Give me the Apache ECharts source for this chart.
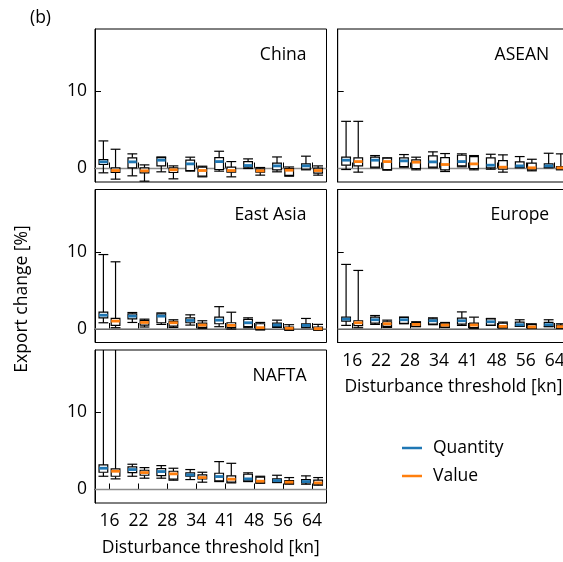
<!DOCTYPE html>
<html>
<head>
<meta charset="utf-8">
<script src="https://cdn.jsdelivr.net/npm/echarts@6/dist/echarts.min.js"></script>
<style>
  html, body { margin: 0; padding: 0; background: #fff; }
  #chart { width: 563px; height: 562px; }
</style>
</head>
<body>
<div id="chart"></div>
<script>
// Disturbance thresholds (kn)
const thresholds = ['16', '22', '28', '34', '41', '48', '56', '64'];

// Box statistics per threshold: [lower whisker, Q1, median, Q3, upper whisker], export change in %
const chinaQuantity = [
  [-0.56, 0.52, 0.86, 1.16, 3.58], [-0.95, 0.09, 0.86, 1.38, 1.90], [-0.43, 0.34, 1.08, 1.42, 1.50], [-0.34, -0.26, 0.60, 1.08, 1.47],
  [-0.34, -0.13, 0.90, 1.42, 2.24], [0.00, 0.17, 0.39, 0.90, 1.25], [-0.43, -0.17, 0.34, 0.69, 1.50], [-0.17, -0.09, 0.34, 0.60, 1.60]
];
const chinaValue = [
  [-1.38, -0.52, -0.26, 0.09, 2.50], [-1.64, -0.56, -0.30, 0.09, 0.47], [-1.34, -0.52, -0.17, 0.09, 0.34], [-1.08, -1.00, -0.26, 0.17, 0.30],
  [-1.08, -0.47, -0.26, 0.17, 0.90], [-0.86, -0.47, -0.30, -0.04, 0.13], [-1.00, -0.90, -0.22, 0.00, 0.20], [-0.86, -0.60, -0.26, 0.04, 0.34]
];
const aseanQuantity = [
  [-0.13, 0.43, 1.08, 1.47, 6.12], [0.09, 0.17, 1.08, 1.47, 1.68], [0.17, 0.26, 0.99, 1.38, 1.81], [0.09, 0.17, 0.86, 1.64, 2.16],
  [0.22, 0.34, 0.90, 1.72, 1.90], [-0.09, 0.09, 0.43, 1.38, 1.85], [0.09, 0.17, 0.34, 0.86, 1.55], [0.09, 0.17, 0.34, 0.60, 1.98]
];
const aseanValue = [
  [-0.47, 0.34, 0.90, 1.38, 6.12], [-0.22, -0.13, 0.90, 1.34, 1.38], [-0.17, 0.00, 0.82, 1.12, 1.47], [-0.39, -0.17, 0.52, 1.42, 1.94],
  [-0.17, 0.00, 0.60, 1.55, 1.68], [-0.47, -0.09, 0.17, 1.03, 1.77], [-0.30, -0.17, 0.09, 0.69, 1.20], [-0.17, -0.09, 0.09, 0.26, 1.90]
];
const eastAsiaQuantity = [
  [0.81, 1.45, 1.79, 2.18, 9.66], [0.85, 1.32, 1.67, 1.97, 2.14], [0.60, 0.81, 1.67, 1.97, 2.09], [0.51, 0.81, 1.11, 1.45, 1.84],
  [0.30, 0.68, 1.15, 1.54, 2.90], [0.17, 0.30, 0.81, 1.24, 1.45], [0.21, 0.30, 0.51, 0.77, 1.15], [0.17, 0.26, 0.47, 0.68, 1.37]
];
const eastAsiaValue = [
  [0.17, 0.47, 1.03, 1.37, 8.72], [0.26, 0.51, 0.85, 1.11, 1.28], [0.21, 0.38, 0.81, 0.98, 1.20], [0.09, 0.21, 0.51, 0.77, 1.07],
  [0.00, 0.17, 0.47, 0.81, 2.18], [-0.13, -0.04, 0.17, 0.68, 0.85], [-0.17, -0.09, 0.09, 0.26, 0.56], [-0.17, -0.09, 0.04, 0.26, 0.60]
];
const europeQuantity = [
  [0.47, 1.03, 1.28, 1.54, 8.38], [0.60, 0.77, 1.20, 1.54, 1.75], [0.68, 0.73, 1.20, 1.50, 1.54], [0.56, 0.64, 1.07, 1.32, 1.45],
  [0.47, 0.64, 1.07, 1.41, 2.22], [0.47, 0.51, 0.94, 1.32, 1.37], [0.34, 0.38, 0.56, 0.90, 1.20], [0.30, 0.34, 0.56, 0.85, 1.20]
];
const europeValue = [
  [0.17, 0.43, 0.81, 1.07, 7.60], [0.21, 0.34, 0.68, 0.94, 1.15], [0.30, 0.34, 0.60, 0.85, 0.94], [0.21, 0.26, 0.51, 0.77, 0.85],
  [0.09, 0.17, 0.51, 0.77, 1.54], [0.13, 0.17, 0.34, 0.77, 0.90], [0.09, 0.13, 0.26, 0.56, 0.68], [0.09, 0.17, 0.30, 0.51, 0.68]
];
const naftaQuantity = [
  [1.72, 2.24, 2.76, 3.19, 19.5], [1.72, 2.20, 2.59, 2.93, 3.28], [1.47, 1.81, 2.33, 2.72, 3.10], [1.29, 1.72, 1.90, 2.16, 2.59],
  [1.03, 1.12, 1.68, 2.11, 3.62], [1.03, 1.12, 1.38, 1.98, 2.16], [0.90, 0.95, 1.16, 1.38, 1.85], [0.69, 0.86, 1.03, 1.29, 1.77]
];
const naftaValue = [
  [1.38, 1.72, 2.37, 2.67, 20.5], [1.47, 1.85, 2.20, 2.50, 2.84], [1.21, 1.34, 2.03, 2.37, 2.76], [0.95, 1.38, 1.55, 1.90, 2.24],
  [0.86, 0.95, 1.34, 1.77, 3.40], [0.82, 0.86, 1.08, 1.60, 1.72], [0.69, 0.78, 0.95, 1.16, 1.55], [0.56, 0.69, 0.86, 1.21, 1.55]
];

const yTickValues = [0, 10];
const yMin = -1.75, yMax = 18.1;

const BLUE = '#1f77b4';
const ORANGE = '#ff7f0e';
const FONT = '"Open Sans"';
const FS = 17.5;

// Panel layout: title, position, Quantity / Value stats, which tick labels to show
const panels = [
  { title: 'China',     left: 95,    top: 29,    q: chinaQuantity,    v: chinaValue,    yLabels: true,  xLabels: false },
  { title: 'ASEAN',     left: 337.7, top: 29,    q: aseanQuantity,    v: aseanValue,    yLabels: false, xLabels: false },
  { title: 'East Asia', left: 95,    top: 189.5, q: eastAsiaQuantity, v: eastAsiaValue, yLabels: true,  xLabels: false },
  { title: 'Europe',    left: 337.7, top: 189.5, q: europeQuantity,   v: europeValue,   yLabels: false, xLabels: true },
  { title: 'NAFTA',     left: 95,    top: 350,   q: naftaQuantity,    v: naftaValue,    yLabels: true,  xLabels: true }
];
const PANEL_W = 231.5, PANEL_H = 153;

// Draw one box: whiskers with caps, white box, coloured median line.
function boxRenderer(offset, color) {
  return function (params, api) {
    const cs = params.coordSys;
    const top = cs.y, bottom = cs.y + cs.height;
    const band = api.size([1, 0])[0];
    const cx = api.coord([api.value(0), 0])[0] + offset * band;
    const bw = 0.3 * band, cw = 0.17 * band;
    const clampY = (y) => Math.max(top, Math.min(bottom, y));
    const yLo = api.coord([0, api.value(1)])[1];
    const yQ1 = api.coord([0, api.value(2)])[1];
    const yMed = api.coord([0, api.value(3)])[1];
    const yQ3 = api.coord([0, api.value(4)])[1];
    const yHi = api.coord([0, api.value(5)])[1];
    const line = { stroke: '#000', lineWidth: 1.2 };
    const children = [
      { type: 'line', shape: { x1: cx, y1: clampY(yQ1), x2: cx, y2: clampY(yLo) }, style: line },
      { type: 'line', shape: { x1: cx, y1: clampY(yQ3), x2: cx, y2: clampY(yHi) }, style: line }
    ];
    if (yLo >= top && yLo <= bottom) {
      children.push({ type: 'line', shape: { x1: cx - cw, y1: yLo, x2: cx + cw, y2: yLo }, style: line });
    }
    if (yHi >= top && yHi <= bottom) {
      children.push({ type: 'line', shape: { x1: cx - cw, y1: yHi, x2: cx + cw, y2: yHi }, style: line });
    }
    children.push({
      type: 'rect',
      shape: { x: cx - bw / 2, y: yQ3, width: bw, height: Math.max(yQ1 - yQ3, 0.5) },
      style: { fill: '#fff', stroke: '#000', lineWidth: 1.2 }
    });
    children.push({
      type: 'line',
      shape: { x1: cx - bw / 2, y1: yMed, x2: cx + bw / 2, y2: yMed },
      style: { stroke: color, lineWidth: 2.8 }
    });
    return { type: 'group', children: children };
  };
}

// Horizontal reference line at zero spanning the whole panel.
function zeroLineRenderer(params, api) {
  const cs = params.coordSys;
  const y = api.coord([0, 0])[1];
  return {
    type: 'line',
    shape: { x1: cs.x, y1: y, x2: cs.x + cs.width, y2: y },
    style: { stroke: '#8c8c8c', lineWidth: 1.4 }
  };
}

const grids = [], xAxes = [], yAxes = [], series = [], titles = [];

panels.forEach((p, i) => {
  grids.push({
    left: p.left, top: p.top, width: PANEL_W, height: PANEL_H,
    show: true, borderColor: '#000', borderWidth: 1, backgroundColor: 'transparent',
    containLabel: false, outerBoundsMode: 'none'
  });
  xAxes.push({
    type: 'category', gridIndex: i, data: thresholds, boundaryGap: true,
    axisLine: { show: true, lineStyle: { color: '#000', width: 1 } },
    axisTick: { show: true, inside: true, alignWithLabel: true, length: 6, lineStyle: { color: '#000', width: 1 } },
    axisLabel: { show: p.xLabels, color: '#000', fontSize: FS, fontFamily: FONT, margin: 9.5, interval: 0 },
    splitLine: { show: false },
    name: p.xLabels ? 'Disturbance threshold [kn]' : '',
    nameLocation: 'middle', nameGap: 36,
    nameTextStyle: { color: '#000', fontSize: FS, fontFamily: FONT }
  });
  yAxes.push({
    type: 'value', gridIndex: i, min: yMin, max: yMax,
    axisLine: { show: true, lineStyle: { color: '#000', width: 1 } },
    axisTick: { show: true, inside: true, length: 6, customValues: yTickValues, lineStyle: { color: '#000', width: 1 } },
    axisLabel: { show: p.yLabels, customValues: yTickValues, color: '#000', fontSize: FS, fontFamily: FONT, margin: 8 },
    splitLine: { show: false }
  });
  series.push({
    type: 'custom', xAxisIndex: i, yAxisIndex: i, z: 1, silent: true,
    renderItem: zeroLineRenderer, data: [[0, 0]], encode: { x: 0, y: 1 }
  });
  series.push({
    type: 'custom', name: 'Quantity', xAxisIndex: i, yAxisIndex: i, z: 2,
    itemStyle: { color: BLUE },
    renderItem: boxRenderer(-0.21, BLUE),
    data: p.q.map((s, k) => [k].concat(s)),
    encode: { x: 0, y: [1, 2, 3, 4, 5] }
  });
  series.push({
    type: 'custom', name: 'Value', xAxisIndex: i, yAxisIndex: i, z: 2,
    itemStyle: { color: ORANGE },
    renderItem: boxRenderer(0.21, ORANGE),
    data: p.v.map((s, k) => [k].concat(s)),
    encode: { x: 0, y: [1, 2, 3, 4, 5] }
  });
  titles.push({
    type: 'text', right: 563 - (p.left + PANEL_W - 20), top: p.top + 17,
    style: { text: p.title, fill: '#000', fontSize: FS, fontFamily: FONT }
  });
});

const chart = echarts.init(document.getElementById('chart'), null, { renderer: 'canvas' });
chart.setOption({
  backgroundColor: '#fff',
  animation: false,
  grid: grids,
  xAxis: xAxes,
  yAxis: yAxes,
  series: series,
  legend: {
    data: ['Quantity', 'Value'],
    orient: 'vertical', left: 397, top: 434,
    icon: 'rect', itemWidth: 20, itemHeight: 2.5, itemGap: 10,
    textStyle: { color: '#000', fontSize: FS, fontFamily: FONT, padding: [0, 0, 0, 6] },
    selectedMode: false
  },
  graphic: titles.concat([
    { type: 'text', left: 30, top: 9, style: { text: '(b)', fill: '#000', fontSize: FS, fontFamily: FONT } },
    {
      type: 'text', x: 22, y: 299, rotation: Math.PI / 2,
      style: { text: 'Export change [%]', fill: '#000', fontSize: FS, fontFamily: FONT, align: 'center', verticalAlign: 'middle' }
    }
  ])
});
</script>
</body>
</html>
